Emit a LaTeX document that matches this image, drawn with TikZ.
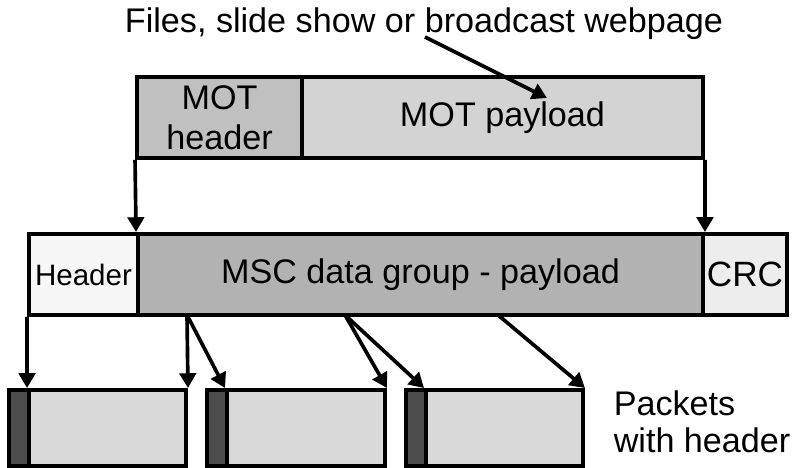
\documentclass[tikz,border=0pt]{standalone}
\usepackage{fontspec}
\setmainfont{Liberation Sans}
\usepackage{xcolor}
\usepackage{tikz}
\usetikzlibrary{arrows.meta,positioning}
\definecolor{motheadgray}{HTML}{C0C0C0}
\definecolor{motpaygray}{HTML}{D3D3D3}
\definecolor{mscheadgray}{HTML}{F7F7F7}
\definecolor{mscpaygray}{HTML}{B2B2B2}
\definecolor{crcgray}{HTML}{EDEDED}
\definecolor{pktgray}{HTML}{D9D9D9}
\definecolor{stripgray}{HTML}{4D4D4D}

\begin{document}
\begin{tikzpicture}[
  every node/.style={font=\fontsize{24.3}{28.5}\selectfont},
  field/.style={draw=black, line width=2.8pt, rectangle, inner sep=0pt,
                align=center, minimum height=2.025cm},
  packet/.style={draw=black, line width=2.8pt, rectangle, inner sep=0pt,
                 fill=pktgray, minimum height=1.9cm},
  strip/.style={packet, fill=stripgray, minimum width=0.5cm},
  arrow/.style={-{Triangle[length=3.7mm,width=4.1mm]}, line width=2.6pt, draw=black}
]
\useasboundingbox (0,0) rectangle (19.875,11.7);
\node[anchor=base] (title) at (10.6,10.875) {Files, slide show or broadcast webpage};
% MOT object
\node[field, fill=motheadgray, minimum width=4.125cm] (motheader) at (5.4875,8.7625) {MOT\\header};
\node[field, fill=motpaygray, minimum width=10.025cm] (motpayload) at (12.5625,8.7625) {MOT payload};
% MSC data group
\node[field, fill=mscheadgray, minimum width=2.725cm, font=\fontsize{21}{25}\selectfont] (mschead) at (2.0875,4.8375) {Header};
\node[field, fill=mscpaygray, minimum width=14.125cm] (mscpay) at (10.5125,4.8375) {MSC data group - payload};
\node[field, fill=crcgray, minimum width=2.1cm, font=\fontsize{25}{28.5}\selectfont] (crc) at (18.625,4.8375) {CRC};
% packets
\node[strip] (strip1) at (0.475,1.0) {};
\node[packet, minimum width=3.925cm] (pkt1) at (2.6875,1.0) {};
\node[strip] (strip2) at (5.425,1.0) {};
\node[packet, minimum width=3.95cm] (pkt2) at (7.65,1.0) {};
\node[strip] (strip3) at (10.4,1.0) {};
\node[packet, minimum width=3.925cm] (pkt3) at (12.6125,1.0) {};
\node[anchor=west, align=left, font=\fontsize{24.3}{26.2}\selectfont] (pktlabel) at (15.22,1.15) {Packets\\with header};
\coordinate (from) at (10.625,10.775);
\coordinate (tip) at (13.675,9.25);
\coordinate (s1) at (4.675,3.825);
\coordinate (s2) at (8.625,3.825);
\coordinate (s3) at (12.45,3.825);
\draw[arrow] (from) -- (tip);
\draw[arrow] (motheader.south west) -- (mscpay.north west);
\draw[arrow] (motpayload.south east) -- (mscpay.north east);
\draw[arrow] (mschead.south west) -- (pkt1.north west);
\draw[arrow] (s1) -- (pkt1.north east);
\draw[arrow] (s1) -- (pkt2.north west);
\draw[arrow] (s2) -- (pkt2.north east);
\draw[arrow] (s2) -- (pkt3.north west);
\draw[arrow] (s3) -- (pkt3.north east);
\end{tikzpicture}
\end{document}
